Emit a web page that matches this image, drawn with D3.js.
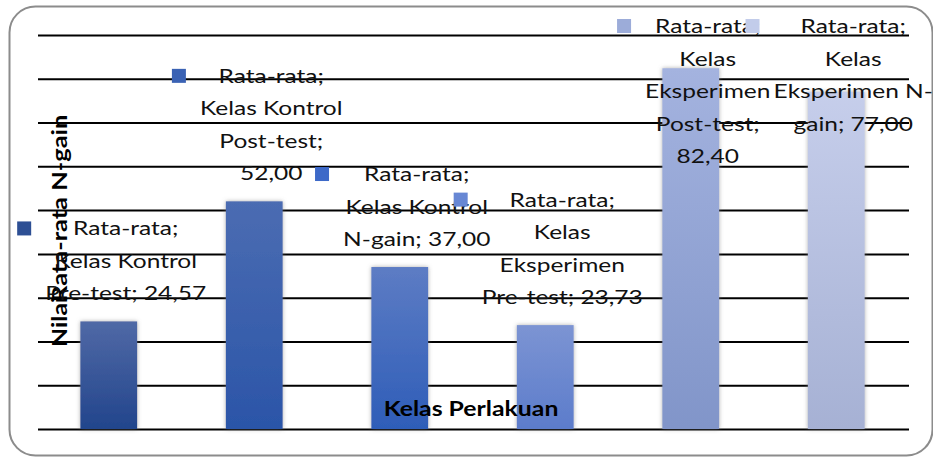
<!DOCTYPE html>
<html>
<head>
<meta charset="utf-8">
<script src="https://cdn.jsdelivr.net/npm/d3@7"></script>
<style>
  html, body { margin: 0; padding: 0; background: #fff; }
  svg { display: block; }
  text { font-family: Lato, "Open Sans", sans-serif; }
</style>
</head>
<body>
<svg id="chart" width="933" height="457"></svg>
<script>
// ---- data ----
const seriesName = "Rata-rata";
const categories = [
  "Kelas Kontrol Pre-test",
  "Kelas Kontrol Post-test",
  "Kelas Kontrol N-gain",
  "Kelas Eksperimen Pre-test",
  "Kelas Eksperimen Post-test",
  "Kelas Eksperimen N-gain"
];
const values = [24.57, 52.00, 37.00, 23.73, 82.40, 77.00];
// how each data label wraps ({v} = value)
const labelLines = [
  ["Rata-rata;", "Kelas Kontrol", "Pre-test; {v}"],
  ["Rata-rata;", "Kelas Kontrol", "Post-test;", "{v}"],
  ["Rata-rata;", "Kelas Kontrol", "N-gain; {v}"],
  ["Rata-rata;", "Kelas", "Eksperimen", "Pre-test; {v}"],
  ["Rata-rata;", "Kelas", "Eksperimen", "Post-test;", "{v}"],
  ["Rata-rata;", "Kelas", "Eksperimen N-", "gain; {v}"]
];
const yTicks = [0, 10, 20, 30, 40, 50, 60, 70, 80, 90];
const xTitle = "Kelas Perlakuan";
const yTitleParts = ["Nilai", "Rata-rata N-gain"];

// ---- styles ----
const barTop =    ["#5069a6", "#4b6cb2", "#5d7cc4", "#7c94d3", "#a4b3df", "#c6ceeb"];
const barBottom = ["#22458c", "#2b55a8", "#2e5db8", "#5c7ccb", "#8195c9", "#a6b1d4"];
const keyColors = ["#2d4f94", "#3a62b4", "#3d69c8", "#6787d4", "#9cacd9", "#c2ccea"];
const labelFont = 19, labelStretch = 1.29;
const titleFont = 20, titleStretch = 1.24;

const svg = d3.select("#chart");
const defs = svg.append("defs");

// frame
svg.append("rect")
  .attr("x", 9.5).attr("y", 6.5).attr("width", 923).attr("height", 449)
  .attr("rx", 26).attr("ry", 26)
  .attr("fill", "#fff").attr("stroke", "#8c8c8c").attr("stroke-width", 2);

const x = d3.scaleBand().domain(categories).range([36, 909])
  .paddingInner(0.61).paddingOuter(0.305);
const y = d3.scaleLinear().domain([0, 90]).range([429, 35]);

// gridlines via axis
const grid = svg.append("g").attr("transform", "translate(38,0)")
  .call(d3.axisLeft(y).tickValues(yTicks).tickSize(-871).tickFormat(""));
grid.select(".domain").remove();
grid.selectAll(".tick line").attr("stroke", "#000").attr("stroke-width", 2);

// axis titles (two overlapping pieces, as in the original)
svg.append("text")
  .attr("transform", `translate(67,347) rotate(-90) scale(${titleStretch},1)`)
  .attr("font-weight", "bold").attr("font-size", titleFont).attr("fill", "#000")
  .text(yTitleParts[0]);
svg.append("text")
  .attr("transform", `translate(67,302) rotate(-90) scale(${titleStretch + 0.03},1)`)
  .attr("font-weight", "bold").attr("font-size", titleFont).attr("fill", "#000")
  .text(yTitleParts[1]);

// data labels
const fmt = v => d3.format(".2f")(v).replace(".", ",");
const lineH = 32.5;
const topLimit = 26;
const labelsG = svg.append("g");
categories.forEach((c, i) => {
  const lines = labelLines[i].map(s => s.replace("{v}", fmt(values[i])));
  const g = labelsG.append("g");
  const texts = lines.map(s => g.append("text")
    .attr("font-size", labelFont).attr("fill", "#111").attr("text-anchor", "middle").text(s));
  const maxW = d3.max(texts, t => t.node().getComputedTextLength()) * labelStretch;
  const totalW = 14 + 14 + maxW;
  const left = x(c) + x.bandwidth() / 2 + 3 - totalW / 2;
  const cx = left + 28 + maxW / 2;
  const lastY = y(values[i]) - 28;
  let firstY = lastY - (lines.length - 1) * lineH;
  if (firstY < topLimit) firstY = topLimit;
  texts.forEach((t, k) => t.attr("transform",
    `translate(${cx},${firstY + k * lineH + 7}) scale(${labelStretch},1)`));
  g.append("rect").attr("x", left).attr("y", firstY - 7)
    .attr("width", 14).attr("height", 14).attr("fill", keyColors[i]);
});

// bars
const shadow = defs.append("filter").attr("id", "sh")
  .attr("x", "-30%").attr("y", "-10%").attr("width", "160%").attr("height", "120%");
shadow.append("feDropShadow").attr("dx", 0).attr("dy", 0)
  .attr("stdDeviation", 2).attr("flood-color", "#777").attr("flood-opacity", 0.6);

categories.forEach((c, i) => {
  const gr = defs.append("linearGradient").attr("id", "g" + i)
    .attr("x1", 0).attr("y1", 0).attr("x2", 0).attr("y2", 1);
  gr.append("stop").attr("offset", "0%").attr("stop-color", barTop[i]);
  gr.append("stop").attr("offset", "100%").attr("stop-color", barBottom[i]);
});

svg.append("g").selectAll("rect").data(categories).join("rect")
  .attr("x", d => x(d))
  .attr("y", (d, i) => y(values[i]))
  .attr("width", x.bandwidth())
  .attr("height", (d, i) => y(0) - y(values[i]))
  .attr("fill", (d, i) => `url(#g${i})`)
  .attr("filter", "url(#sh)");

labelsG.raise();

// x title
svg.append("text")
  .attr("transform", `translate(471,416) scale(${titleStretch},1)`)
  .attr("text-anchor", "middle")
  .attr("font-weight", "bold").attr("font-size", titleFont).attr("fill", "#000")
  .text(xTitle);
</script>
</body>
</html>
